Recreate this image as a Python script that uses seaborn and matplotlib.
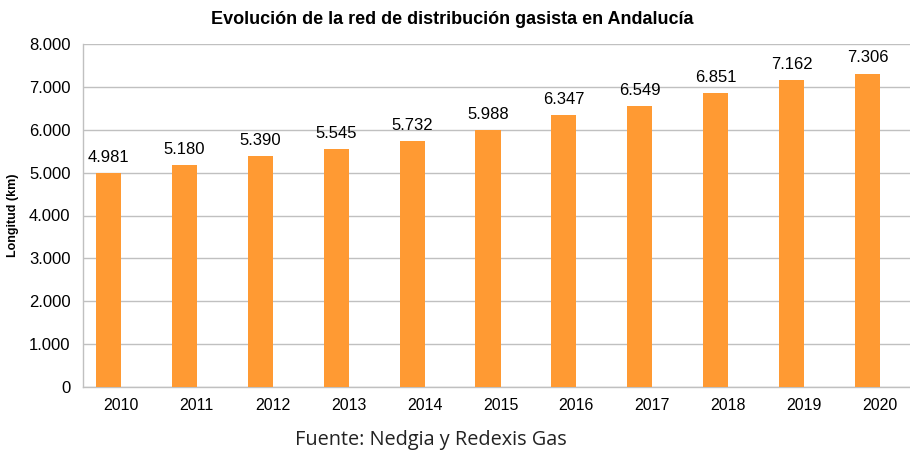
import matplotlib
matplotlib.use("Agg")
import matplotlib.pyplot as plt
import seaborn as sns
import pandas as pd
import numpy as np

years = ["2010", "2011", "2012", "2013", "2014", "2015", "2016", "2017", "2018", "2019", "2020"]
longitud_km = [4981, 5180, 5390, 5545, 5732, 5988, 6347, 6549, 6851, 7162, 7306]
y_ticks = [0, 1000, 2000, 3000, 4000, 5000, 6000, 7000, 8000]

bar_color = "#FF9A33"
grid_color = "#C0C0C0"


def fmt_es(v):
    return f"{v:,.0f}".replace(",", ".")


# Excel-style clustered layout: the real series plus an empty one, so bars sit left of centre
df = pd.DataFrame({
    "year": years + years,
    "value": longitud_km + [np.nan] * len(years),
    "serie": ["Longitud"] * len(years) + ["vacio"] * len(years),
})

sns.set_style("white")
plt.rcParams["font.family"] = ["Liberation Sans", "DejaVu Sans"]
plt.rcParams["text.color"] = "black"
plt.rcParams["xtick.color"] = "black"
plt.rcParams["ytick.color"] = "black"
plt.rcParams["axes.labelcolor"] = "black"

fig = plt.figure(figsize=(9.1, 4.51), dpi=100)
ax = fig.add_axes([83 / 910, 1 - 387 / 451, 835 / 910, 343 / 451])

sns.barplot(data=df, x="year", y="value", hue="serie", hue_order=["Longitud", "vacio"],
            palette=[bar_color, bar_color], dodge=True, width=0.66, saturation=1,
            edgecolor="none", linewidth=0, legend=False, ax=ax, zorder=3)

for p in ax.patches:
    h = p.get_height()
    if np.isnan(h) or h == 0:
        continue
    ax.annotate(fmt_es(h), (p.get_x() + p.get_width() / 2, h), xytext=(0, 6),
                textcoords="offset points", ha="center", va="bottom", fontsize=12, color="black")

ax.set_xlim(-0.5, len(years) - 0.5)
ax.set_ylim(0, 8000)
ax.set_yticks(y_ticks)
ax.set_yticklabels([fmt_es(v) for v in y_ticks], fontsize=12)
ax.yaxis.grid(True, color=grid_color, linewidth=1, zorder=0)
ax.set_axisbelow(True)

# category ticks at boundaries, labels centred
ax.set_xticks(range(len(years)))
ax.set_xticklabels(years, fontsize=11.5)
ax.tick_params(axis="x", which="major", length=0, pad=8, labelcolor="black")
ax.set_xticks(np.arange(-0.5, len(years), 1.0), minor=True)
ax.tick_params(axis="x", which="minor", length=5, color=grid_color, direction="out")
ax.tick_params(axis="y", length=5, color=grid_color, direction="out", pad=4, labelcolor="black")

for side in ["top", "right"]:
    ax.spines[side].set_visible(False)
for side in ["left", "bottom"]:
    ax.spines[side].set_color(grid_color)
    ax.spines[side].set_linewidth(1)

ax.set_xlabel("")
ax.set_ylabel("Longitud (km)", fontsize=9, fontweight="bold", labelpad=7, color="black")

fig.text(452 / 910, 1 - 20 / 451, "Evolución de la red de distribución gasista en Andalucía",
         ha="center", va="center", fontsize=13, fontweight="bold", color="black")
fig.text(431 / 910, 1 - 440 / 451, "Fuente: Nedgia y Redexis Gas",
         ha="center", va="center", fontsize=14.3, family=["Open Sans", "DejaVu Sans"], color="#222222")

plt.savefig("out.png", dpi=100)
plt.close()
